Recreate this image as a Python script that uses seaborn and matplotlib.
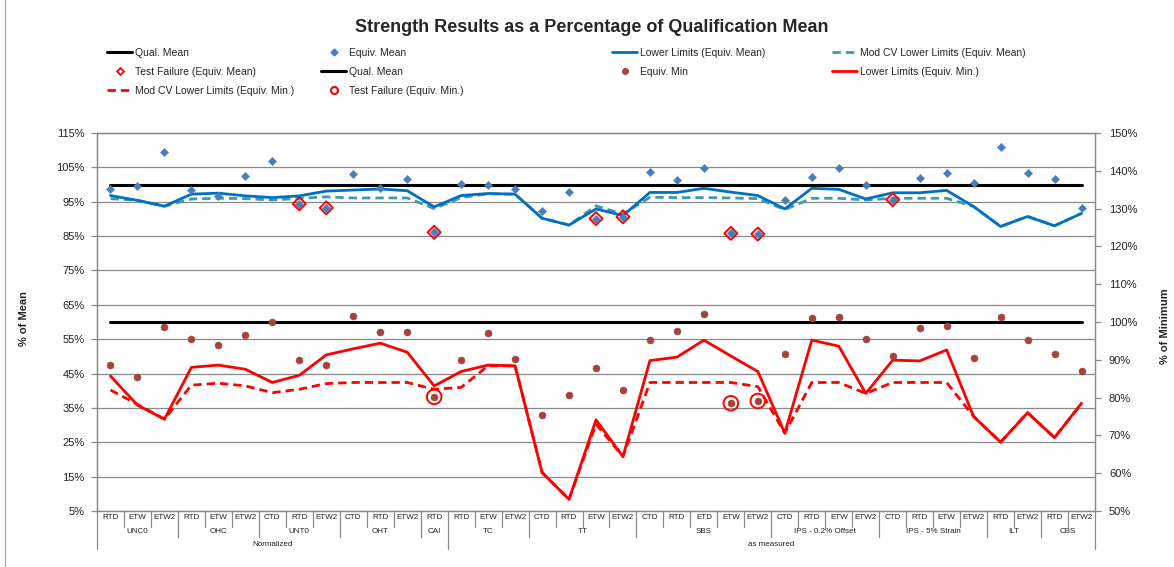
import numpy as np
import pandas as pd
import matplotlib
matplotlib.use("Agg")
import matplotlib.pyplot as plt
import matplotlib.transforms as mtransforms
from matplotlib.lines import Line2D
from matplotlib.ticker import FuncFormatter, MultipleLocator, FixedLocator
import seaborn as sns

# ---------------- data ----------------
conditions = ["RTD", "ETW", "ETW2", "RTD", "ETW", "ETW2", "CTD", "RTD", "ETW2",
              "CTD", "RTD", "ETW2", "RTD",
              "RTD", "ETW", "ETW2", "CTD", "RTD", "ETW", "ETW2",
              "CTD", "RTD", "ETD", "ETW", "ETW2",
              "CTD", "RTD", "ETW", "ETW2", "CTD", "RTD", "ETW", "ETW2",
              "RTD", "ETW2", "RTD", "ETW2"]
test_groups = ["UNC0", "OHC", "UNT0", "OHT", "CAI", "TC", "TT", "SBS",
               "IPS - 0.2% Offset", "IPS - 5% Strain", "ILT", "CBS"]
test_group_sizes = [3, 3, 3, 3, 1, 3, 4, 5, 4, 4, 2, 2]
basis_groups = ["Normalized", "as measured"]
basis_sizes = [13, 24]

left_ticks = [5, 15, 25, 35, 45, 55, 65, 75, 85, 95, 105, 115]
right_ticks = [50, 60, 70, 80, 90, 100, 110, 120, 130, 140, 150]

qual_mean_pct = 100.0   # % of mean (left axis)
qual_min_pct = 100.0    # % of minimum (right axis)

equiv_mean = [98.6, 99.6, 109.6, 98.3, 96.7, 102.5, 106.8, 94.4, 93.2, 103.1, 99.1, 101.5, 86.1,
              100.2, 99.9, 98.8, 92.2, 97.8, 90.1, 90.6, 103.6, 101.3, 104.7, 85.8, 85.6,
              95.6, 102.2, 104.7, 100.0, 95.6, 102.0, 103.4, 100.5, 110.8, 103.4, 101.5, 93.3]
lower_mean = [96.8, 95.4, 93.7, 97.2, 97.5, 96.7, 96.2, 96.7, 98.1, 98.4, 98.7, 98.2, 93.5,
              96.8, 97.4, 97.2, 90.2, 88.2, 92.9, 91.0, 97.7, 97.7, 98.9, 97.8, 96.8,
              92.9, 98.9, 98.6, 95.8, 97.6, 97.6, 98.3, 93.6, 87.8, 90.7, 88.0, 91.6]
modcv_mean = [95.9, 95.4, 93.7, 95.8, 96.0, 95.9, 95.5, 96.0, 96.4, 96.1, 96.1, 96.1, 93.0,
              96.2, 97.3, 97.2, 90.2, 88.2, 93.8, 91.4, 96.3, 96.2, 96.2, 96.1, 95.9,
              92.7, 96.0, 96.0, 95.5, 96.0, 96.0, 96.0, 93.6, 87.8, 90.7, 88.0, 91.6]

equiv_min = [88.5, 85.4, 98.8, 95.4, 93.8, 96.6, 100.1, 89.9, 88.5, 101.5, 97.3, 97.4, 80.2,
             90.0, 97.0, 90.3, 75.3, 80.7, 87.8, 82.0, 95.2, 97.6, 102.1, 78.5, 79.1,
             91.5, 101.0, 101.4, 95.6, 91.0, 98.3, 98.9, 90.5, 101.2, 95.2, 91.5, 87.0]
lower_min = [85.7, 78.0, 74.3, 88.0, 88.6, 87.5, 84.0, 85.9, 91.3, 92.9, 94.4, 92.0, 83.1,
             86.9, 88.6, 88.4, 60.2, 53.1, 74.1, 64.4, 89.8, 90.7, 95.2, 91.0, 86.9,
             70.6, 95.2, 93.6, 81.1, 89.9, 89.7, 92.6, 75.0, 68.2, 76.0, 69.4, 78.5]
modcv_min = [82.0, 78.2, 74.3, 83.3, 83.8, 83.1, 81.3, 82.2, 83.7, 84.0, 84.0, 84.0, 82.2,
             82.7, 88.4, 88.4, 60.2, 53.1, 73.0, 64.4, 84.0, 84.0, 84.0, 84.0, 82.9,
             70.6, 84.0, 84.0, 81.1, 84.0, 84.0, 84.0, 75.0, 68.2, 76.0, 69.4, 78.5]

fail_mean_idx = [7, 8, 12, 18, 19, 23, 24, 29]
fail_min_idx = [12, 23, 24]

# ---------------- style ----------------
sns.set_style("white")
plt.rcParams["font.family"] = ["Liberation Sans", "DejaVu Sans"]

BLUE_PT = "#4A7EBB"
BLUE_LN = "#0070C0"
TEAL = "#3C9AB6"
BROWN = "#A5433F"
RED = "#FF0000"
GRID = "#8A8A8A"

n = len(conditions)
xpos = np.arange(n)
df = pd.DataFrame({
    "x": xpos, "equiv_mean": equiv_mean, "lower_mean": lower_mean, "modcv_mean": modcv_mean,
    "equiv_min": equiv_min, "lower_min": lower_min, "modcv_min": modcv_min,
    "qual_mean": [qual_mean_pct] * n, "qual_min": [qual_min_pct] * n,
})
fm = df.iloc[fail_mean_idx]
fn = df.iloc[fail_min_idx]

fig = plt.figure(figsize=(11.74, 5.67), dpi=100)
ax = fig.add_axes([97 / 1174, 1 - 511 / 567, 998 / 1174, 378 / 567])
ax2 = ax.twinx()

# primary axis (% of mean)
sns.lineplot(data=df, x="x", y="qual_mean", ax=ax, color="black", lw=2.2, zorder=3)
sns.lineplot(data=df, x="x", y="modcv_mean", ax=ax, color=TEAL, lw=2.0,
             linestyle=(0, (3, 1.8)), zorder=3)
sns.lineplot(data=df, x="x", y="lower_mean", ax=ax, color=BLUE_LN, lw=2.0, zorder=4)
sns.scatterplot(data=fm, x="x", y="equiv_mean", ax=ax, marker="D", s=44,
                facecolors="none", edgecolor=RED, linewidth=1.4, zorder=5)
sns.scatterplot(data=df, x="x", y="equiv_mean", ax=ax, marker="D", s=18,
                color=BLUE_PT, edgecolor=BLUE_PT, linewidth=0.3, zorder=6)

# secondary axis (% of minimum)
sns.lineplot(data=df, x="x", y="qual_min", ax=ax2, color="black", lw=2.2, zorder=3)
sns.lineplot(data=df, x="x", y="modcv_min", ax=ax2, color=RED, lw=2.0,
             linestyle=(0, (3, 1.8)), zorder=3)
sns.lineplot(data=df, x="x", y="lower_min", ax=ax2, color=RED, lw=2.0, zorder=4)
sns.scatterplot(data=fn, x="x", y="equiv_min", ax=ax2, marker="o", s=110,
                facecolors="none", edgecolor=RED, linewidth=1.4, zorder=5)
sns.scatterplot(data=df, x="x", y="equiv_min", ax=ax2, marker="o", s=26,
                color=BROWN, edgecolor=BROWN, linewidth=0.3, zorder=6)

# axes formatting
pct = FuncFormatter(lambda v, p: f"{v:.0f}%")
ax.set_xlim(-0.5, n - 0.5)
ax.set_ylim(left_ticks[0], left_ticks[-1])
ax.yaxis.set_major_locator(FixedLocator(left_ticks))
ax.yaxis.set_major_formatter(pct)
ax2.set_ylim(right_ticks[0], right_ticks[-1])
ax2.yaxis.set_major_locator(FixedLocator(right_ticks))
ax2.yaxis.set_major_formatter(pct)
ax.set_xticks([])
ax.set_xlabel("")
ax2.set_xlabel("")
ax.yaxis.grid(True, color=GRID, lw=0.9)
ax.set_axisbelow(True)
for a in (ax, ax2):
    for s in a.spines.values():
        s.set_color(GRID)
        s.set_linewidth(0.9)
ax.tick_params(axis="y", which="both", left=True, length=4, width=0.9, color=GRID,
               labelsize=8, pad=5, labelcolor="#222222")
ax2.tick_params(axis="y", which="both", right=True, length=4, width=0.9, color=GRID,
                labelsize=8, pad=6, labelcolor="#222222")
ax.set_ylabel("% of Mean", fontsize=8, fontweight="bold")
ax.yaxis.set_label_coords(-0.068, 0.51)
ax2.set_ylabel("% of Minimum", fontsize=8, fontweight="bold")
ax2.yaxis.set_label_coords(1.065, 0.49)

# ---------------- category table below axis ----------------
trans = mtransforms.blended_transform_factory(ax.transData, ax.transAxes)
Y1, Y2, Y3 = -0.018, -0.054, -0.089
S1, S2, S3 = -0.042, -0.070, -0.100
for i, c in enumerate(conditions):
    ax.text(i, Y1, c, transform=trans, ha="center", va="center", fontsize=5.8, color="#222222")
group_edges = np.cumsum([0] + test_group_sizes)
basis_edges = np.cumsum([0] + basis_sizes)
for g, lab in enumerate(test_groups):
    ctr = (group_edges[g] + group_edges[g + 1] - 1) / 2
    ax.text(ctr, Y2, lab, transform=trans, ha="center", va="center", fontsize=5.8, color="#222222")
for b, lab in enumerate(basis_groups):
    ctr = (basis_edges[b] + basis_edges[b + 1] - 1) / 2
    ax.text(ctr, Y3, lab, transform=trans, ha="center", va="center", fontsize=5.8, color="#222222")
for k in range(n + 1):
    if k in basis_edges:
        yb = S3
    elif k in group_edges:
        yb = S2
    else:
        yb = S1
    ax.plot([k - 0.5, k - 0.5], [0, yb], transform=trans, color=GRID, lw=0.9, clip_on=False)

# ---------------- title & legend ----------------
fig.text(0.504, 1 - 27 / 567, "Strength Results as a Percentage of Qualification Mean",
         ha="center", va="center", fontsize=13, fontweight="bold")

h_qual = Line2D([], [], color="black", lw=2.2)
h_eqm = Line2D([], [], color=BLUE_PT, marker="D", ls="", ms=3.5)
h_lowm = Line2D([], [], color=BLUE_LN, lw=2.0)
h_modm = Line2D([], [], color=TEAL, lw=2.0, ls=(0, (3, 1.8)))
h_fm = Line2D([], [], color=RED, marker="D", ls="", ms=3.5, mfc="none", mew=1.3)
h_eqn = Line2D([], [], color=BROWN, marker="o", ls="", ms=4)
h_lown = Line2D([], [], color=RED, lw=2.0)
h_modn = Line2D([], [], color=RED, lw=2.0, ls=(0, (3, 1.8)))
h_fn = Line2D([], [], color=RED, marker="o", ls="", ms=5, mfc="none", mew=1.5)

cols = [
    (107, [h_qual, h_fm, h_modn], ["Qual. Mean", "Test Failure (Equiv. Mean)",
                                   "Mod CV Lower Limits (Equiv. Min.)"]),
    (321, [h_eqm, h_qual, h_fn], ["Equiv. Mean", "Qual. Mean", "Test Failure (Equiv. Min.)"]),
    (612, [h_lowm, h_eqn], ["Lower Limits (Equiv. Mean)", "Equiv. Min"]),
    (832, [h_modm, h_lown], ["Mod CV Lower Limits (Equiv. Mean)", "Lower Limits (Equiv. Min.)"]),
]
for xpx, hs, ls in cols:
    fig.legend(handles=hs, labels=ls, loc="upper left",
               bbox_to_anchor=(xpx / 1174, 1 - 48 / 567), frameon=False, fontsize=7.5,
               handlelength=2.4, handletextpad=0.3, labelspacing=0.85,
               borderpad=0, borderaxespad=0)

# chart-area border (left edge)
fig.add_artist(Line2D([5 / 1174, 5 / 1174], [0, 1], transform=fig.transFigure,
                      color="#A6A6A6", lw=0.9))

fig.savefig("out.png", dpi=100)
